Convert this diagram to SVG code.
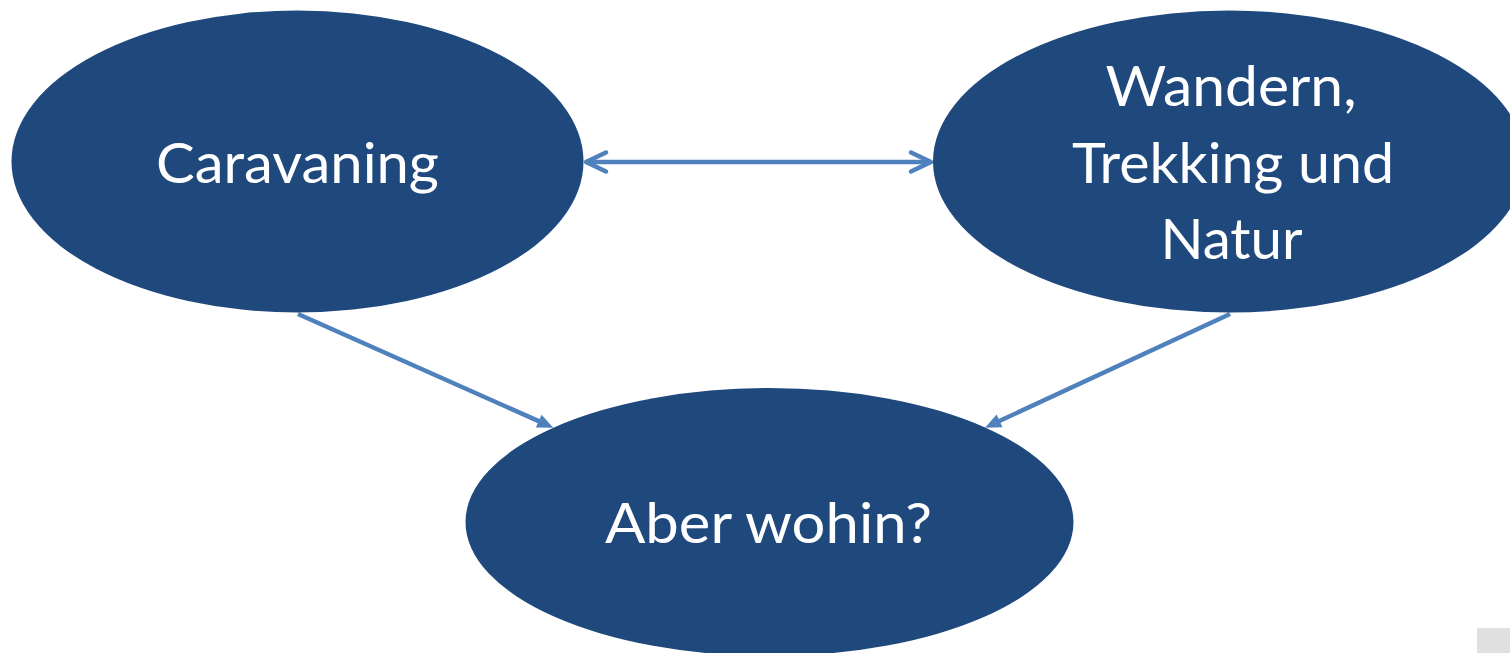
<svg xmlns="http://www.w3.org/2000/svg" width="1510" height="653" viewBox="0 0 1510 653">
<style>
.node{fill:#1f497d;}
.lbl{font-family:Lato,"Open Sans","Liberation Sans",sans-serif;font-size:57px;fill:#ffffff;text-anchor:middle;}
.conn{stroke:#4f81bd;stroke-width:4.5;fill:none;}
</style>
<defs>
<marker id="chev" markerUnits="userSpaceOnUse" markerWidth="30" markerHeight="30" viewBox="-25 -15 30 30" refX="0" refY="0" orient="auto-start-reverse" overflow="visible">
<path d="M-20,-9.5 L0,0 L-20,9.5" fill="none" stroke="#4f81bd" stroke-width="4.5" stroke-linecap="round" stroke-linejoin="round"/>
</marker>
<marker id="tri" markerUnits="userSpaceOnUse" markerWidth="16" markerHeight="14" viewBox="0 -7 16 14" refX="8" refY="0" orient="auto" overflow="visible">
<path d="M0,-7 L16,0 L0,7 z" fill="#4f81bd"/>
</marker>
</defs>
<rect width="1510" height="653" fill="#ffffff"/>
<g id="connectors">
<line class="conn" x1="586" y1="162" x2="931" y2="162" marker-start="url(#chev)" marker-end="url(#chev)"/>
<line class="conn" x1="298" y1="314" x2="546" y2="424.4" marker-end="url(#tri)"/>
<line class="conn" x1="1230" y1="314" x2="992.3" y2="424.3" marker-end="url(#tri)"/>
</g>
<g id="node-caravaning">
<ellipse class="node" cx="297.5" cy="161.5" rx="286" ry="151"/>
<text class="lbl" x="297.5" y="182.7" textLength="283" lengthAdjust="spacingAndGlyphs">Caravaning</text>
</g>
<g id="node-wandern">
<ellipse class="node" cx="1229" cy="161.5" rx="296" ry="151"/>
<text class="lbl" x="1231" y="106" textLength="251" lengthAdjust="spacingAndGlyphs">Wandern,</text>
<text class="lbl" x="1233" y="182.7" textLength="322" lengthAdjust="spacingAndGlyphs">Trekking und</text>
<text class="lbl" x="1231.5" y="259.3" textLength="142" lengthAdjust="spacingAndGlyphs">Natur</text>
</g>
<g id="node-aber">
<ellipse class="node" cx="769.5" cy="522" rx="304" ry="134"/>
<text class="lbl" x="768.5" y="543.3" textLength="327" lengthAdjust="spacingAndGlyphs">Aber wohin?</text>
</g>
<rect x="1477" y="628" width="33" height="25" fill="#e0e0e0"/>
</svg>
